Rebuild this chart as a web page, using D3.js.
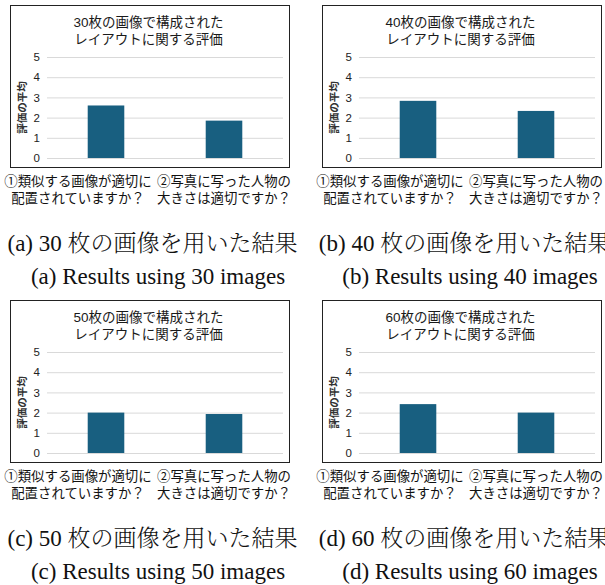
<!DOCTYPE html>
<html>
<head>
<meta charset="utf-8">
<script src="https://cdn.jsdelivr.net/npm/d3@7"></script>
<style>
  html, body { margin: 0; padding: 0; background: #fff; }
  svg { display: block; }
</style>
</head>
<body>
<svg id="fig" width="605" height="585"></svg>
<script>
// Mean ratings for the two layout questions, one panel per image count
const imageCounts = [30, 40, 50, 60];
const panelLetters = ["a", "b", "c", "d"];
const categories = ["q1", "q2"];
const categoryLines = [
  ["①類似する画像が適切に", "配置されていますか？"],
  ["②写真に写った人物の", "大きさは適切ですか？"]
];
const means30 = [2.6, 1.85];
const means40 = [2.83, 2.33];
const means50 = [2.0, 1.93];
const means60 = [2.42, 2.0];
const yTicks = [0, 1, 2, 3, 4, 5];
const yLabel = "評価の平均";

const panelMeans = [means30, means40, means50, means60];

const sans = "'Liberation Sans', Arial, 'Noto Sans CJK JP', sans-serif";
const serif = "'Liberation Serif', 'Times New Roman', 'Noto Serif CJK JP', 'Noto Sans CJK JP', serif";
const barColor = "#185f80";

const svg = d3.select("#fig");

// panel layout
const panelDX = 312, panelDY = 295;
const box = { x0: 10, y0: 5, x1: 289, y1: 167 };
const plot = { left: 47, right: 283, top: 57, bottom: 158 };

imageCounts.forEach((n, i) => {
  const col = i % 2, row = Math.floor(i / 2);
  const g = svg.append("g")
    .attr("transform", `translate(${col * panelDX},${row * panelDY})`);

  const x = d3.scaleBand()
    .domain(categories)
    .range([plot.left, plot.right])
    .paddingInner(0.69)
    .paddingOuter(0.345);
  const y = d3.scaleLinear().domain([0, 5]).range([plot.bottom, plot.top]);

  // chart frame
  g.append("rect")
    .attr("x", box.x0 + 0.5).attr("y", box.y0 + 0.5)
    .attr("width", box.x1 - box.x0).attr("height", box.y1 - box.y0)
    .attr("fill", "#fff").attr("stroke", "#222").attr("stroke-width", 1);

  // title
  const title = g.append("text")
    .attr("x", 148.5).attr("y", 27)
    .attr("text-anchor", "middle")
    .attr("font-family", sans).attr("font-size", 13.5).attr("fill", "#1a1a1a");
  title.append("tspan").attr("x", 148.5).attr("dy", 0).text(`${n}枚の画像で構成された`);
  title.append("tspan").attr("x", 148.5).attr("dy", 17).text("レイアウトに関する評価");

  // gridlines and value axis
  const yAxis = d3.axisLeft(y)
    .tickValues(yTicks)
    .tickFormat(d3.format("d"))
    .tickSize(-(plot.right - plot.left))
    .tickPadding(7);
  const ag = g.append("g")
    .attr("transform", `translate(${plot.left},0)`)
    .call(yAxis);
  ag.select(".domain").remove();
  ag.selectAll(".tick line").attr("stroke", "#d9d9d9").attr("stroke-width", 1);
  ag.selectAll(".tick text")
    .attr("font-family", sans).attr("font-size", 11.5).attr("fill", "#222");

  // value axis title
  g.append("text")
    .attr("transform", `translate(26,${(plot.top + plot.bottom) / 2}) rotate(-90)`)
    .attr("text-anchor", "middle")
    .attr("font-family", sans).attr("font-size", 10.5).attr("font-weight", 700)
    .attr("fill", "#333")
    .text(yLabel);

  // bars
  g.selectAll("rect.bar")
    .data(panelMeans[i])
    .join("rect")
    .attr("class", "bar")
    .attr("x", (d, k) => x(categories[k]))
    .attr("width", x.bandwidth())
    .attr("y", d => y(d))
    .attr("height", d => y(0) - y(d))
    .attr("fill", barColor);

  // category labels (first one is pulled left so it fits under the frame)
  const labelShift = [-28, 0];
  categoryLines.forEach((lines, k) => {
    const cx = x(categories[k]) + x.bandwidth() / 2 + labelShift[k];
    const t = g.append("text")
      .attr("text-anchor", "middle")
      .attr("font-family", sans).attr("font-size", 13.4).attr("fill", "#111");
    lines.forEach((s, j) => {
      t.append("tspan").attr("x", cx).attr("y", 186 + j * 16.5).text(s);
    });
  });

  // sub-figure captions
  const cap = g.append("g")
    .attr("font-family", serif).attr("font-size", 23).attr("font-weight", 300)
    .attr("fill", "#111");
  cap.append("text")
    .attr("x", 152.5).attr("y", 251)
    .attr("text-anchor", "middle")
    .text(`(${panelLetters[i]}) ${n} 枚の画像を用いた結果`);
  cap.append("text")
    .attr("x", 158).attr("y", 284)
    .attr("text-anchor", "middle")
    .text(`(${panelLetters[i]}) Results using ${n} images`);
});
</script>
</body>
</html>
